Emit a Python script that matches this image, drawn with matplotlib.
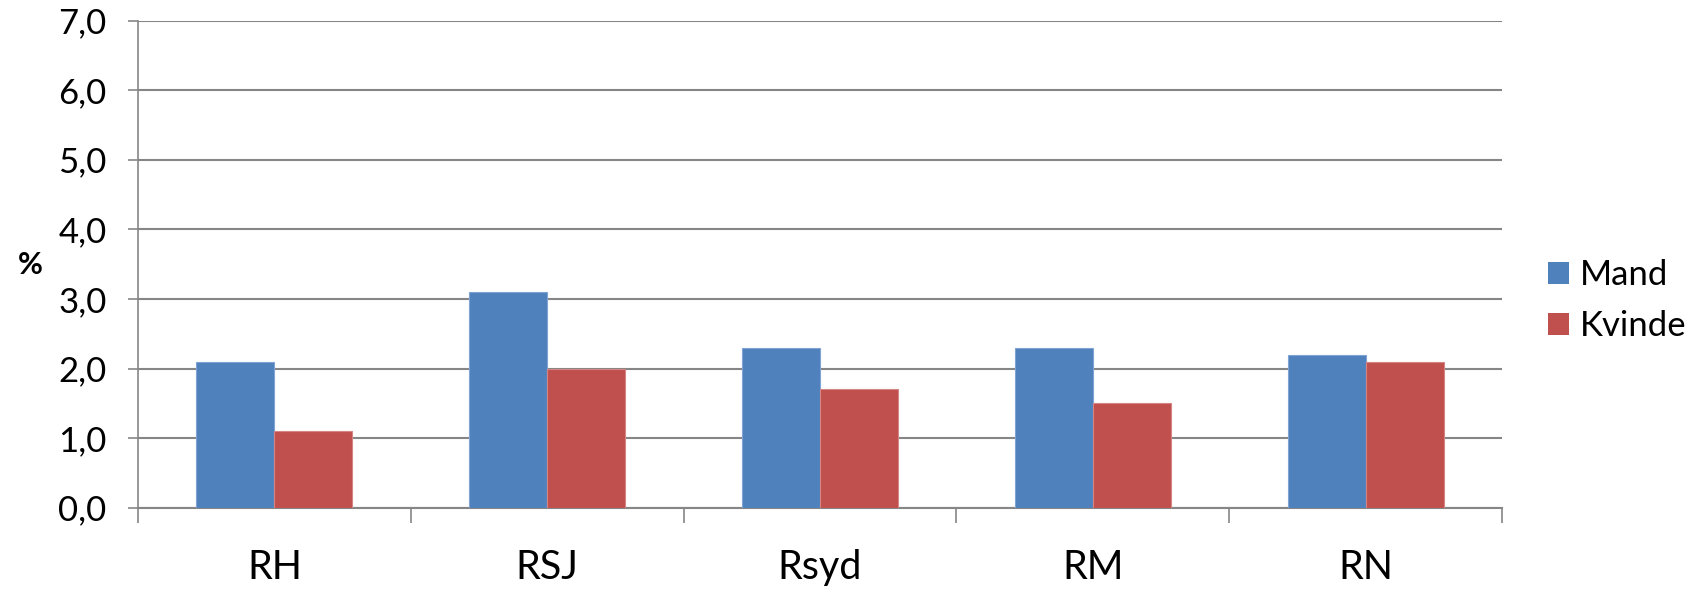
import matplotlib
matplotlib.use("Agg")
import matplotlib.pyplot as plt
import numpy as np
from matplotlib.patches import Patch

categories = ["RH", "RSJ", "Rsyd", "RM", "RN"]
mand = [2.1, 3.1, 2.3, 2.3, 2.2]
kvinde = [1.1, 2.0, 1.7, 1.5, 2.1]
series_names = ["Mand", "Kvinde"]
yticks = [0, 1, 2, 3, 4, 5, 6, 7]
ytick_labels = ["0,0", "1,0", "2,0", "3,0", "4,0", "5,0", "6,0", "7,0"]

plt.rcParams['font.family'] = ['Lato', 'DejaVu Sans']

W, H = 1694, 595
fig = plt.figure(figsize=(W / 100, H / 100), dpi=100)
ax = fig.add_axes([138 / W, 1 - 507.7 / H, (1502 - 138) / W, (507.7 - 20.5) / H])

blue = "#4F81BD"
red = "#C0504D"
grid_c = "#868686"

x = np.arange(len(categories))
bw = 1 / 3.5
ax.bar(x - bw / 2, mand, width=bw, color=blue, edgecolor="#7fa3d3", linewidth=0.8, zorder=3)
ax.bar(x + bw / 2, kvinde, width=bw, color=red, edgecolor="#d58583", linewidth=0.8, zorder=3)

ax.set_xlim(-0.5, len(categories) - 0.5)
ax.set_ylim(0, 7)

ax.set_yticks(yticks)
ax.set_yticklabels(ytick_labels, fontsize=25)
ax.yaxis.grid(True, color=grid_c, linewidth=1.5, zorder=0)
ax.tick_params(axis="y", length=7.2, width=1.2, color=grid_c, pad=15.5)

# category boundary ticks on x axis
ax.set_xticks(np.arange(-0.5, len(categories), 1.0))
ax.set_xticklabels([])
ax.set_xticks(x, minor=True)
ax.set_xticklabels(categories, minor=True, fontsize=28.5)
ax.tick_params(axis="x", which="major", length=11, width=1.2, color=grid_c)
ax.tick_params(axis="x", which="minor", length=0, pad=30)

for s in ["top", "right"]:
    ax.spines[s].set_visible(False)
ax.spines["left"].set_color(grid_c)
ax.spines["left"].set_linewidth(1.2)
ax.spines["bottom"].set_color(grid_c)
ax.spines["bottom"].set_linewidth(1.5)

fig.text(30 / W, 1 - 265 / H, "%", fontsize=22, fontweight="bold", ha="center", va="center")

handles = [Patch(facecolor=blue), Patch(facecolor=red)]
leg = fig.legend(handles, series_names, loc="center left",
                 bbox_to_anchor=(1548 / W, 1 - 300.5 / H), frameon=False,
                 borderpad=0, borderaxespad=0,
                 fontsize=25, handlelength=0.6, handleheight=0.6,
                 handletextpad=0.32, labelspacing=0.56)

fig.savefig("out.png", dpi=100)
